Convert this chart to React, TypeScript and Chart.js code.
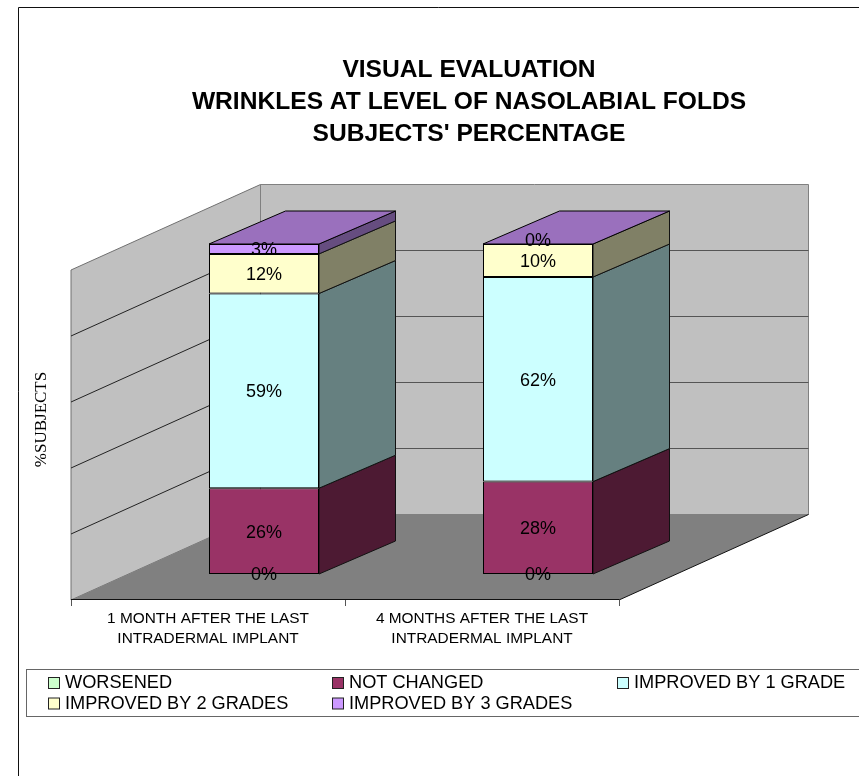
import { useEffect, useRef } from "react";
import { Chart, registerables } from "chart.js";

Chart.register(...registerables);

const categories = [
  ["1 MONTH AFTER THE LAST", "INTRADERMAL IMPLANT"],
  ["4 MONTHS AFTER THE LAST", "INTRADERMAL IMPLANT"],
];
const worsened = [0, 0];
const notChanged = [26, 28];
const improved1 = [59, 62];
const improved2 = [12, 10];
const improved3 = [3, 0];
const titleLines = ["VISUAL EVALUATION", "WRINKLES AT LEVEL OF NASOLABIAL FOLDS", "SUBJECTS' PERCENTAGE"];
const yAxisTitle = "%SUBJECTS";
const seriesNames = ["WORSENED", "NOT CHANGED", "IMPROVED BY 1 GRADE", "IMPROVED BY 2 GRADES", "IMPROVED BY 3 GRADES"];
const seriesValues = [worsened, notChanged, improved1, improved2, improved3];
const frontColors = ["#CCFFCC", "#993366", "#CCFFFF", "#FFFFCC", "#CC99FF"];
const sideColors = ["#668066", "#4D1A33", "#668080", "#808066", "#664D80"];
const topColors = ["#99BF99", "#732650", "#99BFBF", "#BFBF99", "#9A70BD"];

const SANS = '"Liberation Sans", Arial, sans-serif';
const BAR_DX = 76.5;
const BAR_DY = -33;
const WALL_SHIFT_X = -56;
const WALL_SHIFT_Y = 26;
const WALL_DX = 189.5;
const WALL_DY = -85.5;

function poly(ctx: CanvasRenderingContext2D, pts: number[][], fill: string, stroke: string | null, lw = 1) {
  ctx.beginPath();
  pts.forEach((p, i) => (i ? ctx.lineTo(p[0], p[1]) : ctx.moveTo(p[0], p[1])));
  ctx.closePath();
  ctx.fillStyle = fill;
  ctx.fill();
  if (stroke) {
    ctx.strokeStyle = stroke;
    ctx.lineWidth = lw;
    ctx.stroke();
  }
}

function line(ctx: CanvasRenderingContext2D, x1: number, y1: number, x2: number, y2: number, color: string, lw = 1) {
  ctx.beginPath();
  ctx.moveTo(x1, y1);
  ctx.lineTo(x2, y2);
  ctx.strokeStyle = color;
  ctx.lineWidth = lw;
  ctx.stroke();
}

const chrome3d = {
  id: "chrome3d",
  beforeDraw(chart: any) {
    const ctx = chart.ctx;
    const { x, y } = chart.scales;
    ctx.save();
    // outer chart frame
    line(ctx, 18.5, 7.5, 859, 7.5, "#111");
    line(ctx, 18.5, 7.5, 18.5, 776, "#111");

    // title
    ctx.fillStyle = "#000";
    ctx.font = `bold 24.6px ${SANS}`;
    ctx.textAlign = "center";
    ctx.textBaseline = "middle";
    titleLines.forEach((t, i) => ctx.fillText(t, 469, 70 + i * 32));

    // walls and floor, from the scales
    const fl = x.left + WALL_SHIFT_X;
    const fr = x.right + WALL_SHIFT_X;
    const fb = y.bottom + WALL_SHIFT_Y;
    const ft = y.top + WALL_SHIFT_Y;
    poly(ctx, [[fl, ft], [fl + WALL_DX, ft + WALL_DY], [fl + WALL_DX, fb + WALL_DY], [fl, fb]], "#C0C0C0", "#707070");
    poly(ctx, [[fl + WALL_DX, ft + WALL_DY], [fr + WALL_DX, ft + WALL_DY], [fr + WALL_DX, fb + WALL_DY], [fl + WALL_DX, fb + WALL_DY]], "#C0C0C0", "#808080");
    poly(ctx, [[fl, fb], [fl + WALL_DX, fb + WALL_DY], [fr + WALL_DX, fb + WALL_DY], [fr, fb]], "#808080", null);
    line(ctx, fr, fb, fr + WALL_DX, fb + WALL_DY, "#111");

    // gridlines on the walls
    y.ticks.forEach((t: any) => {
      if (t.value === 0 || t.value === 100) return;
      const gy = y.getPixelForValue(t.value) + WALL_SHIFT_Y;
      line(ctx, fl, gy, fl + WALL_DX, gy + WALL_DY, "#222");
      line(ctx, fl + WALL_DX, gy + WALL_DY, fr + WALL_DX, gy + WALL_DY, "#555");
    });

    // front axis line and ticks
    line(ctx, fl, fb - 0.5, fr, fb - 0.5, "#111");
    [fl, (fl + fr) / 2, fr].forEach((tx) => line(ctx, tx + 0.5, fb, tx + 0.5, fb + 6, "#555"));

    // axis title
    ctx.save();
    ctx.translate(42, 419.5);
    ctx.rotate(-Math.PI / 2);
    ctx.font = '17px "Liberation Serif", "Times New Roman", serif';
    ctx.fillStyle = "#000";
    ctx.fillText(yAxisTitle, 0, 0);
    ctx.restore();

    // legend
    ctx.strokeStyle = "#666";
    ctx.lineWidth = 1;
    ctx.strokeRect(26.5, 669.5, 840, 47);
    const cols = [48, 332, 617];
    chart.data.datasets.forEach((ds: any, i: number) => {
      const cx = cols[i % 3];
      const cy = 683 + Math.floor(i / 3) * 20.5;
      ctx.fillStyle = ds.backgroundColor;
      ctx.strokeStyle = "#222";
      ctx.fillRect(cx + 0.5, cy - 5.5, 11, 11);
      ctx.strokeRect(cx + 0.5, cy - 5.5, 11, 11);
      ctx.fillStyle = "#000";
      ctx.font = `18.2px ${SANS}`;
      ctx.textAlign = "left";
      ctx.fillText(ds.label, cx + 17, cy);
    });
    ctx.restore();
  },
  beforeDatasetsDraw(chart: any) {
    const ctx = chart.ctx;
    ctx.save();
    const n = chart.data.datasets.length;
    for (let i = 0; i < n; i++) {
      chart.getDatasetMeta(i).data.forEach((bar: any, j: number) => {
        const right = bar.x + bar.width / 2;
        const left = bar.x - bar.width / 2;
        if (seriesValues[i][j] > 0) {
          poly(ctx, [[right, bar.y], [right + BAR_DX, bar.y + BAR_DY], [right + BAR_DX, bar.base + BAR_DY], [right, bar.base]], sideColors[i], "#111");
        }
        if (i === n - 1) {
          poly(ctx, [[left, bar.y], [left + BAR_DX, bar.y + BAR_DY], [right + BAR_DX, bar.y + BAR_DY], [right, bar.y]], topColors[n - 1], "#000");
        }
      });
    }
    ctx.restore();
  },
  afterDatasetsDraw(chart: any) {
    const ctx = chart.ctx;
    ctx.save();
    ctx.font = `18px ${SANS}`;
    ctx.fillStyle = "#000";
    ctx.textAlign = "center";
    ctx.textBaseline = "middle";
    chart.data.datasets.forEach((ds: any, i: number) => {
      chart.getDatasetMeta(i).data.forEach((bar: any, j: number) => {
        const v = ds.data[j];
        const mid = (bar.y + bar.base) / 2;
        ctx.fillText(`${v}%`, bar.x, v === 0 && i > 0 ? mid - 3 : mid + 1.5);
      });
    });
    ctx.restore();
  },
};

export default function App() {
  const ref = useRef<HTMLCanvasElement>(null);
  useEffect(() => {
    const chart = new Chart(ref.current as HTMLCanvasElement, {
      type: "bar",
      data: {
        labels: categories as any,
        datasets: seriesNames.map((label, i) => ({
          label,
          data: seriesValues[i],
          backgroundColor: frontColors[i],
          borderColor: "#000",
          borderWidth: seriesValues[i].some((v) => v > 0) ? 1 : 0,
          borderSkipped: false,
          barPercentage: 110 / 274,
          categoryPercentage: 1,
        })),
      },
      plugins: [chrome3d],
      options: {
        responsive: false,
        animation: false,
        layout: { padding: { left: 127, right: 184, top: 244, bottom: 122 } },
        plugins: { legend: { display: false }, title: { display: false }, tooltip: { enabled: false } },
        scales: {
          x: {
            stacked: true,
            grid: { display: false, drawTicks: false },
            border: { display: false },
            afterFit: (s: any) => { s.height = 80; },
            ticks: {
              autoSkip: false,
              maxRotation: 0,
              minRotation: 0,
              labelOffset: -56,
              padding: 35,
              color: "#000",
              font: { family: SANS, size: 15.4, lineHeight: 1.3 },
            },
          },
          y: {
            stacked: true,
            min: 0,
            max: 100,
            grid: { display: false },
            border: { display: false },
            afterFit: (s: any) => { s.width = 0; },
            ticks: { display: false, stepSize: 20 },
          },
        },
      } as any,
    });
    return () => chart.destroy();
  }, []);
  return (
    <canvas
      ref={ref}
      width={859}
      height={776}
      style={{ position: "absolute", left: 0, top: 0, display: "block" }}
    />
  );
}
